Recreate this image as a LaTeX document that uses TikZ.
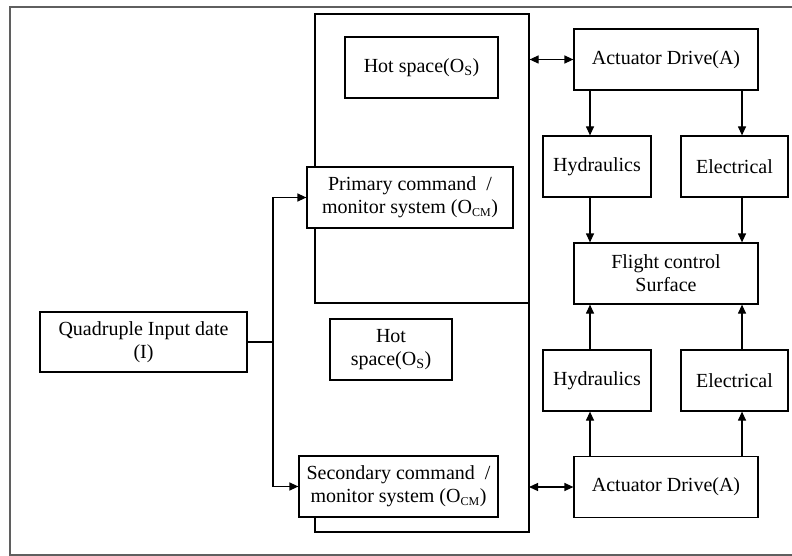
\documentclass[tikz,border=0pt]{standalone}
\usepackage{fontspec}
\setmainfont{Liberation Serif}
\usetikzlibrary{arrows.meta}
\definecolor{framegray}{RGB}{95,95,95}
\tikzset{
  blk/.style={draw=black, line width=1.2pt, fill=white, align=center,
    inner sep=0pt, font=\fontsize{20}{23}\selectfont},
  panel/.style={draw=black, line width=1.2pt},
  arr/.style={line width=1.2pt, -{Triangle[length=9pt,width=8pt]}},
  darr/.style={line width=1.2pt, {Triangle[length=9pt,width=8pt]}-{Triangle[length=9pt,width=8pt]}},
  wire/.style={line width=1.2pt}
}
\newcommand{\smallsub}[1]{\textsubscript{\fontsize{12}{12}\selectfont #1}}
\begin{document}
\begin{tikzpicture}[x=1pt,y=-1pt]
\useasboundingbox (0,0) rectangle (792,556);
% outer frame
\draw[framegray, line width=1.4pt] (792,7) -- (10,7) -- (10,555) -- (792,555);

% command / monitor panels
\node[panel, minimum width=214pt, minimum height=289pt, inner sep=0pt] (upper) at (422,158.5) {};
\coordinate (lowR) at (529,487);
\draw[panel] (315,517) -- (315,532) -- (529,532) -- (529,303);

% blocks
\node[blk, minimum width=207pt, minimum height=60pt] (quad) at (143.5,342) {Quadruple Input date\\(I)};
\node[blk, minimum width=153pt, minimum height=61pt] (hot1) at (421.5,67.5) {Hot space(O\textsubscript{S})};
\node[blk, minimum width=206pt, minimum height=61pt] (prim) at (410,197.5) {Primary command \ /\\monitor system (O\smallsub{CM})};
\node[blk, minimum width=122pt, minimum height=61pt] (hot2) at (391,349.5) {Hot\\space(O\textsubscript{S})};
\node[blk, minimum width=199pt, minimum height=61pt] (sec) at (398.5,486.5) {Secondary command \ /\\monitor system (O\smallsub{CM})};

\node[blk, minimum width=184pt, minimum height=61pt] (act1) at (666,59.5) {Actuator Drive(A)};
\node[blk, minimum width=108pt, minimum height=61pt] (hyd1) at (597,166.5) {Hydraulics};
\node[blk, minimum width=107pt, minimum height=61pt] (ele1) at (734.5,166.5) {Electrical};
\node[blk, minimum width=184pt, minimum height=61pt] (fcs) at (666,273.5) {Flight control\\Surface};
\node[blk, minimum width=108pt, minimum height=61pt] (hyd2) at (597,380.5) {Hydraulics};
\node[blk, minimum width=107pt, minimum height=61pt] (ele2) at (734.5,380.5) {Electrical};
\node[blk, minimum width=184pt, minimum height=61pt] (act2) at (666,487) {Actuator Drive(A)};

% input distribution
\coordinate (split) at (273,342);
\draw[wire] (quad.east) -- (split);
\draw[arr] (split) |- (prim.west);
\draw[arr] (split) |- (sec.west);

% links to actuator drives
\draw[darr] (upper.east |- act1.west) -- (act1.west);
\draw[darr] (lowR) -- (act2.west);

% actuation channels
\coordinate (hx) at (590,0);
\coordinate (ex) at (742,0);
\draw[arr] (act1.south -| hx) -- (hyd1.north -| hx);
\draw[arr] (act1.south -| ex) -- (ele1.north -| ex);
\draw[arr] (hyd1.south -| hx) -- (fcs.north -| hx);
\draw[arr] (ele1.south -| ex) -- (fcs.north -| ex);
\draw[arr] (act2.north -| hx) -- (hyd2.south -| hx);
\draw[arr] (act2.north -| ex) -- (ele2.south -| ex);
\draw[arr] (hyd2.north -| hx) -- (fcs.south -| hx);
\draw[arr] (ele2.north -| ex) -- (fcs.south -| ex);
\end{tikzpicture}
\end{document}
